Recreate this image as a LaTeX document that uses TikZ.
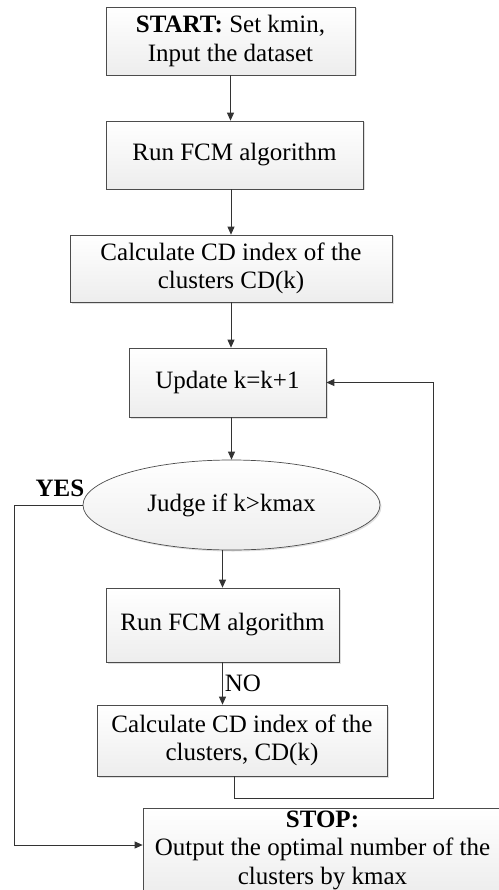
\documentclass[tikz,border=0pt]{standalone}
\usepackage{fontspec}
\setmainfont{Liberation Serif}
\usetikzlibrary{arrows.meta,positioning,calc,shapes.geometric,shadows}

\tikzset{
    box/.style={draw=gray!60!black, line width=0.7pt, top color=white, bottom color=gray!14,
        drop shadow={shadow xshift=1.5pt, shadow yshift=-1.5pt, opacity=0.25},
        align=center, inner sep=0pt, font=\fontsize{25}{28.5}\selectfont},
    decision/.style={box, ellipse},
    arr/.style={draw=gray!40!black, line width=0.8pt, -{Triangle[width=7pt,length=8pt]}},
    lbl/.style={font=\fontsize{25}{28.5}\selectfont, inner sep=2pt},
}

\begin{document}
\begin{tikzpicture}[x=1pt,y=-1pt]
    \useasboundingbox (0,0) rectangle (498,890);
    \node[box, minimum width=249pt, minimum height=68pt] (start) at (230.5,41) {\textbf{START:} Set kmin,\\Input the dataset};
    \node[box, minimum width=257pt, minimum height=68pt] (run1) at (234.5,155) {Run FCM algorithm};
    \node[box, minimum width=322pt, minimum height=67pt] (calc1) at (231,268.5) {Calculate CD index of the\\clusters CD(k)};
    \node[box, minimum width=197pt, minimum height=69pt] (update) at (227.5,382.5) {Update k=k+1};
    \node[decision, minimum width=297pt, minimum height=90pt] (judge) at (231.5,505) {Judge if k>kmax};
    \node[box, minimum width=233pt, minimum height=74pt] (run2) at (222.5,625) {Run FCM algorithm};
    \node[box, minimum width=290pt, minimum height=71pt] (calc2) at (242,740.5) {Calculate CD index of the\\clusters, CD(k)};
    \node[box, minimum width=359pt, minimum height=84pt] (stop) at (322.5,850) {\textbf{STOP:}\\Output the optimal number of the\\clusters by kmax};
    \node[lbl, font=\fontsize{25}{28.5}\selectfont\bfseries] (yes) at (60,488) {YES};
    \coordinate (loopA) at (234,798);
    \coordinate (loopB) at (433,798);
    \coordinate (yesA) at (14,845);
    % main flow
    \draw[arr] (start.south) -- (start.south |- run1.north);
    \draw[arr] (calc1.north |- run1.south) -- (calc1.north);
    \draw[arr] (calc1.south) -- (calc1.south |- update.north);
    \draw[arr] (judge.north |- update.south) -- (judge.north);
    \draw[arr] (run2.north |- judge.south) -- (run2.north);
    \draw[arr] (run2.south) -- node[lbl, right] (no) {NO} (run2.south |- calc2.north);
    % loop back and exit
    \draw[arr] (loopA |- calc2.south) -- (loopA) -- (loopB) -- (loopB |- update.east) -- (update.east);
    \draw[arr] (judge.west) -- (yesA |- judge.west) -- (yesA) -- (yesA -| stop.west);
\end{tikzpicture}
\end{document}
